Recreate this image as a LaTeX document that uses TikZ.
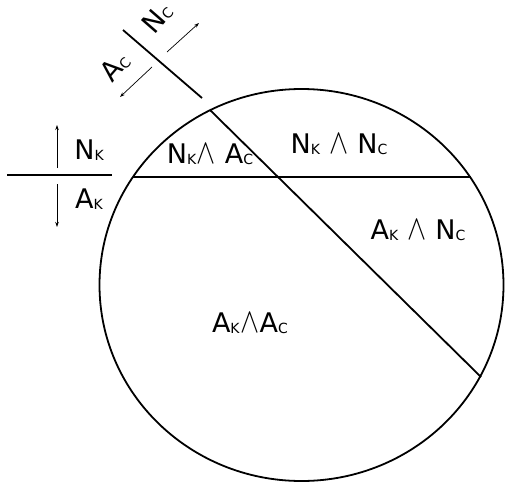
\documentclass[tikz,border=0pt]{standalone}
\usepackage{fontspec}
\setmainfont{DejaVu Sans}
\usetikzlibrary{arrows.meta}
\newcommand{\subk}[1]{\raisebox{-1pt}{\fontsize{14}{14}\selectfont #1}}
\newcommand{\wdg}{\kern0.5pt\scalebox{1.15}[1.4]{$\wedge$}\kern0.5pt}
\tikzset{
  lbl/.style={inner sep=0pt, font=\fontsize{27}{27}\selectfont},
  mainline/.style={line width=1.8pt},
  thinarrow/.style={line width=0.7pt, -{Stealth[length=5pt,width=3.5pt]}},
}
\begin{document}
\begin{tikzpicture}[x=1pt,y=1pt]
\useasboundingbox (0,0) rectangle (506,-482);
% circle
\draw[mainline] (301.5,-285) ellipse [x radius=202, y radius=196];
% chords
\coordinate (hl) at (133,-177);
\coordinate (hr) at (470.5,-177);
\coordinate (dt) at (210,-110);
\coordinate (db) at (481,-377);
\draw[mainline] (hl) -- (hr);
\draw[mainline] (dt) -- (db);
% K divider
\coordinate (kl) at (7,-175);
\coordinate (kr) at (112,-175);
\draw[mainline] (kl) -- (kr);
\coordinate (ku0) at (57,-168); \coordinate (ku1) at (57,-125);
\coordinate (kd0) at (57,-184); \coordinate (kd1) at (57,-227);
\draw[thinarrow] (ku0) -- (ku1);
\draw[thinarrow] (kd0) -- (kd1);
\node[lbl] (nk) at (89,-150) {N\subk{K}};
\node[lbl] (ak) at (89,-199) {A\subk{K}};
% C divider
\coordinate (cl) at (123,-30);
\coordinate (cr) at (202,-98);
\draw[mainline] (cl) -- (cr);
\coordinate (cu0) at (167,-52); \coordinate (cu1) at (199,-23);
\coordinate (cd0) at (152,-67); \coordinate (cd1) at (120,-97);
\draw[thinarrow] (cu0) -- (cu1);
\draw[thinarrow] (cd0) -- (cd1);
\node[lbl, rotate=49] (nc) at (157,-18) {N\subk{C}};
\node[lbl, rotate=49] (ac) at (115,-67) {A\subk{C}};
% region labels
\node[lbl] (r1) at (210,-154) {N\subk{K}\wdg\ A\subk{C}};
\node[lbl] (r2) at (339,-144) {N\subk{K} \wdg\ N\subk{C}};
\node[lbl] (r3) at (418,-230) {A\subk{K} \wdg\ N\subk{C}};
\node[lbl] (r4) at (250,-323) {A\subk{K}\wdg A\subk{C}};
\end{tikzpicture}
\end{document}
